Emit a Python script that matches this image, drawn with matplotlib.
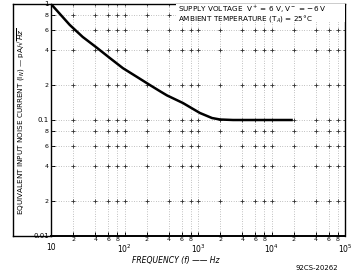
import matplotlib
matplotlib.use("Agg")
import matplotlib.pyplot as plt
from matplotlib.lines import Line2D
from matplotlib.patches import Rectangle
import numpy as np

# Data
freq_hz = [10, 18, 27, 42, 64, 95, 148, 222, 304, 378, 625, 1060, 1550, 2000, 3000, 19500]
noise_pa = [1.0, 0.66, 0.52, 0.42, 0.34, 0.28, 0.235, 0.20, 0.177, 0.163, 0.14, 0.115,
            0.104, 0.101, 0.1, 0.1]

x_major = [10, 100, 1000, 10000, 100000]
x_major_labels = ["10", r"10$^2$", r"10$^3$", r"10$^4$", r"10$^5$"]
x_minor_mult = [2, 4, 6, 8]
y_major = [0.01, 0.1, 1]
y_major_labels = ["0.01", "0.1", "1"]
y_minor_mult = [2, 4, 6, 8]

W, H = 355, 276
fig = plt.figure(figsize=(W / 100, H / 100), dpi=100)
fig.patch.set_facecolor("white")

L, R, T, B = 51, 345, 4, 236
ax = fig.add_axes([L / W, 1 - B / H, (R - L) / W, (B - T) / H])
ax.set_xscale("log")
ax.set_yscale("log")
ax.set_xlim(10, 1e5)
ax.set_ylim(0.01, 1)

x_minor = [m * d for d in [10, 100, 1000, 10000] for m in x_minor_mult]
y_minor = [m * d for d in [0.01, 0.1] for m in y_minor_mult]

# grid
gx = x_major + x_minor
gy = y_major + y_minor
for xv in gx:
    ax.axvline(xv, color="#888888", lw=0.5, ls=(0, (1, 2.5)), zorder=1)
for yv in gy:
    ax.axhline(yv, color="#888888", lw=0.5, ls=(0, (1, 2.5)), zorder=1)
XX, YY = np.meshgrid(gx, gy)
ax.plot(XX.ravel(), YY.ravel(), ls="none", marker="+", ms=3, mew=0.6,
        color="#333333", zorder=2)

# curve
ax.plot(freq_hz, noise_pa, color="black", lw=1.8, zorder=5,
        solid_capstyle="butt", solid_joinstyle="round")

# ticks
ax.set_xticks(x_major)
ax.set_xticklabels(x_major_labels, fontsize=5.5)
ax.set_xticks(x_minor, minor=True)
ax.set_xticklabels([str(m) for d in range(4) for m in x_minor_mult], minor=True, fontsize=4.5)
ax.set_yticks(y_major)
ax.set_yticklabels(y_major_labels, fontsize=5)
ax.set_yticks(y_minor, minor=True)
ax.set_yticklabels([str(m) for d in range(2) for m in y_minor_mult], minor=True, fontsize=4.5)
ax.tick_params(which="both", direction="in", length=3, width=0.7, pad=1.5, colors="black")
ax.tick_params(axis="x", which="major", pad=5)
ax.tick_params(axis="x", which="minor", pad=1)

for s in ax.spines.values():
    s.set_linewidth(1.0)
ax.spines["bottom"].set_linewidth(1.4)

# condition box
ax.add_patch(Rectangle((176 / W, 1 - 22 / H), (R - 176) / W, 18 / H,
                       transform=fig.transFigure, facecolor="white",
                       edgecolor="none", zorder=6))
fig.text(178 / W, 1 - 9 / H, r"SUPPLY VOLTAGE  V$^+$ = 6 V, V$^-$ = $-$6 V",
         fontsize=5.2, va="center", ha="left", zorder=7)
fig.text(178 / W, 1 - 19 / H, r"AMBIENT TEMPERATURE (T$_A$) = 25°C",
         fontsize=5.2, va="center", ha="left", zorder=7)

# outer frame
for (x0, y0, x1, y1) in [(13, T, L, T), (13, T, 13, B), (13, B, L, B)]:
    fig.add_artist(Line2D([x0 / W, x1 / W], [1 - y0 / H, 1 - y1 / H],
                          transform=fig.transFigure, color="black", lw=1.0))

fig.text(21 / W, 1 - 121 / H,
         r"EQUIVALENT INPUT NOISE CURRENT (I$_N$) — pA/$\sqrt{Hz}$",
         rotation=90, fontsize=5.2, va="center", ha="center")
fig.text(176 / W, 1 - 261 / H, "FREQUENCY (f) —— Hz", fontsize=5.5,
         style="italic", va="center", ha="center")
fig.text(317 / W, 1 - 268 / H, "92CS-20262", fontsize=5, va="center", ha="center")

fig.savefig("out.png", dpi=100, facecolor="white")
